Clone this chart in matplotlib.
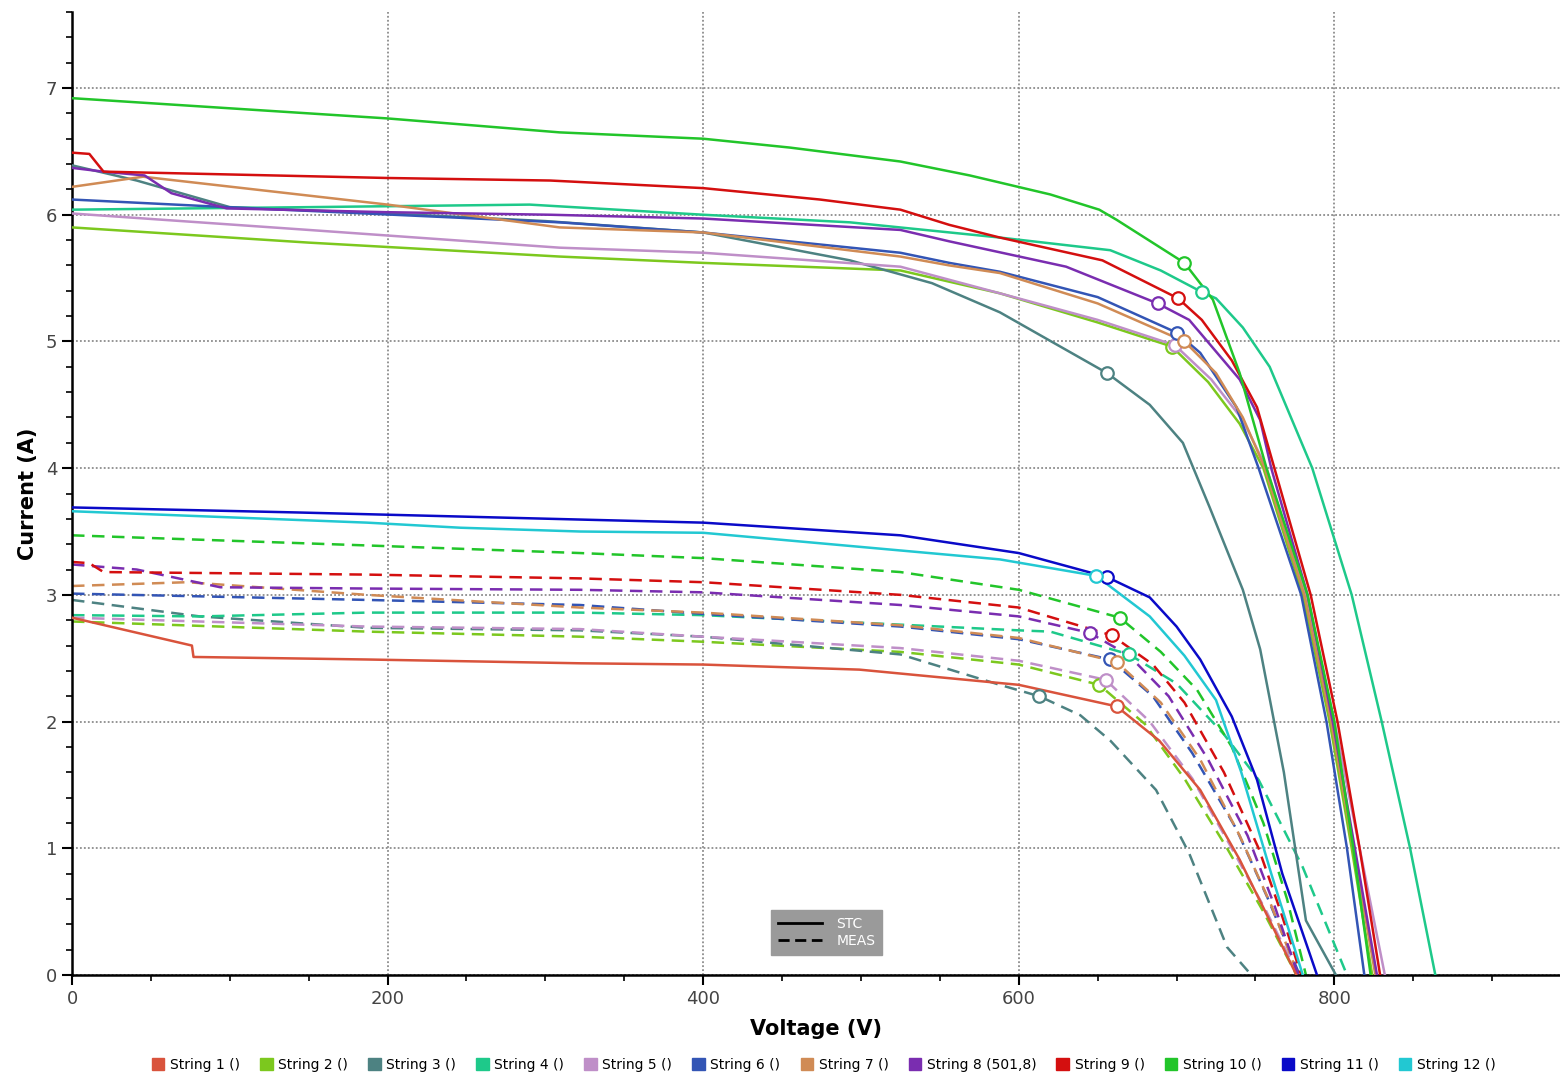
"""
I-V curves of 12 PV strings: STC (solid) vs measured (dashed), MPP marked with circles.
"""

import matplotlib.pyplot as plt
from matplotlib.lines import Line2D
from matplotlib.patches import Patch
from matplotlib.ticker import MultipleLocator

# ============================================================
# Data
# ============================================================
labels = ["String 1 ()", "String 2 ()", "String 3 ()", "String 4 ()",
          "String 5 ()", "String 6 ()", "String 7 ()", "String 8 (501,8)",
          "String 9 ()", "String 10 ()", "String 11 ()", "String 12 ()"]
colors = ["#d9533c", "#7cc81e", "#4d8282", "#1ec98a", "#bf8fc8", "#3355b5",
          "#d08b55", "#7a2db0", "#d40f0f", "#22c52a", "#0a0ac8", "#22c8d2"]

# --- STC curves (solid) ---
s1_stc_v = [0, 76, 77, 187, 322, 400, 499, 600, 662, 689, 715, 740, 759, 776]
s1_stc_i = [2.82, 2.60, 2.51, 2.49, 2.46, 2.45, 2.41, 2.29, 2.12, 1.85, 1.46, 0.91, 0.43, 0]
s2_stc_v = [0, 150, 309, 400, 525, 588, 650, 697, 720, 740, 755, 780, 797, 811, 824]
s2_stc_i = [5.90, 5.78, 5.67, 5.62, 5.56, 5.38, 5.15, 4.96, 4.68, 4.35, 4.0, 3.0, 2.0, 1.0, 0]
s3_stc_v = [0, 41, 100, 200, 300, 400, 493, 545, 588, 656, 683, 704, 721, 742, 753, 768, 782, 801]
s3_stc_i = [6.39, 6.27, 6.06, 6.01, 5.95, 5.86, 5.64, 5.46, 5.23, 4.75, 4.50, 4.20, 3.69, 3.04, 2.57, 1.60, 0.43, 0]
s4_stc_v = [0, 150, 290, 400, 493, 588, 658, 690, 716, 725, 742, 759, 786, 811, 830, 848, 864]
s4_stc_i = [6.04, 6.06, 6.08, 6.00, 5.94, 5.82, 5.72, 5.56, 5.39, 5.34, 5.11, 4.80, 4.0, 3.0, 2.0, 1.0, 0]
s5_stc_v = [0, 150, 309, 400, 525, 588, 650, 699, 722, 742, 757, 782, 800, 816, 832]
s5_stc_i = [6.01, 5.88, 5.74, 5.70, 5.59, 5.38, 5.17, 4.97, 4.70, 4.38, 4.0, 3.0, 2.0, 1.0, 0]
s6_stc_v = [0, 98, 309, 400, 525, 556, 588, 650, 700, 715, 738, 752, 779, 795, 808, 819]
s6_stc_i = [6.12, 6.06, 5.94, 5.86, 5.70, 5.62, 5.55, 5.35, 5.07, 4.91, 4.48, 4.0, 3.0, 2.0, 1.0, 0]
s7_stc_v = [0, 45, 200, 309, 400, 525, 556, 588, 650, 705, 725, 742, 756, 781, 798, 812, 826]
s7_stc_i = [6.22, 6.30, 6.08, 5.90, 5.86, 5.67, 5.60, 5.54, 5.30, 5.00, 4.75, 4.40, 4.0, 3.0, 2.0, 1.0, 0]
s8_stc_v = [0, 20, 46, 63, 98, 200, 303, 400, 525, 556, 630, 688, 708, 740, 753, 760, 783, 799, 813, 827]
s8_stc_i = [6.37, 6.34, 6.31, 6.17, 6.05, 6.02, 6.00, 5.97, 5.88, 5.79, 5.59, 5.30, 5.17, 4.70, 4.38, 4.0, 3.0, 2.0, 1.0, 0]
s9_stc_v = [0, 11, 20, 200, 303, 400, 474, 525, 556, 588, 653, 701, 716, 735, 751, 762, 785, 802, 816, 829]
s9_stc_i = [6.49, 6.48, 6.34, 6.29, 6.27, 6.21, 6.12, 6.04, 5.92, 5.82, 5.64, 5.34, 5.17, 4.85, 4.48, 4.0, 3.0, 2.0, 1.0, 0]
s10_stc_v = [0, 200, 309, 400, 455, 525, 569, 620, 651, 662, 705, 723, 740, 757, 783, 800, 812, 823]
s10_stc_i = [6.92, 6.76, 6.65, 6.60, 6.53, 6.42, 6.31, 6.16, 6.04, 5.96, 5.62, 5.33, 4.75, 4.0, 3.0, 2.0, 1.0, 0]
s11_stc_v = [0, 144, 400, 525, 600, 656, 683, 700, 715, 735, 751, 767, 789]
s11_stc_i = [3.69, 3.65, 3.57, 3.47, 3.33, 3.14, 2.98, 2.75, 2.49, 2.04, 1.54, 0.80, 0]
s12_stc_v = [0, 187, 246, 322, 400, 588, 649, 683, 705, 725, 741, 760, 780]
s12_stc_i = [3.66, 3.57, 3.53, 3.50, 3.49, 3.28, 3.15, 2.83, 2.52, 2.17, 1.60, 0.80, 0]

# --- Measured curves (dashed) ---
s2_meas_v = [0, 187, 322, 400, 525, 600, 651, 680, 705, 732, 755, 776]
s2_meas_i = [2.79, 2.71, 2.67, 2.63, 2.55, 2.45, 2.29, 1.98, 1.55, 1.0, 0.5, 0]
s3_meas_v = [0, 81, 187, 322, 400, 525, 588, 613, 639, 658, 687, 708, 732, 746, 750]
s3_meas_i = [2.96, 2.83, 2.74, 2.72, 2.67, 2.53, 2.29, 2.20, 2.05, 1.85, 1.46, 0.96, 0.22, 0.02, 0]
s4_meas_v = [0, 81, 187, 322, 400, 600, 620, 670, 700, 730, 752, 780, 808]
s4_meas_i = [2.84, 2.83, 2.86, 2.86, 2.84, 2.72, 2.71, 2.53, 2.30, 1.90, 1.54, 0.85, 0]
s5_meas_v = [0, 187, 322, 400, 525, 600, 655, 683, 710, 735, 757, 777]
s5_meas_i = [2.82, 2.75, 2.73, 2.67, 2.58, 2.48, 2.33, 2.0, 1.55, 1.0, 0.5, 0]
s6_meas_v = [0, 187, 322, 400, 525, 600, 658, 685, 710, 738, 758, 778]
s6_meas_i = [3.01, 2.96, 2.92, 2.85, 2.75, 2.65, 2.49, 2.20, 1.75, 1.15, 0.60, 0]
s7_meas_v = [0, 73, 187, 322, 400, 525, 600, 662, 690, 715, 740, 760, 777]
s7_meas_i = [3.07, 3.10, 3.00, 2.90, 2.86, 2.76, 2.66, 2.47, 2.15, 1.70, 1.10, 0.55, 0]
s8_meas_v = [0, 20, 41, 94, 187, 322, 400, 525, 600, 645, 670, 695, 720, 745, 762, 777]
s8_meas_i = [3.24, 3.22, 3.20, 3.06, 3.05, 3.04, 3.02, 2.92, 2.83, 2.70, 2.52, 2.20, 1.70, 1.10, 0.55, 0]
s9_meas_v = [0, 11, 20, 187, 322, 400, 525, 600, 659, 685, 705, 730, 752, 766, 779]
s9_meas_i = [3.26, 3.25, 3.18, 3.16, 3.13, 3.10, 3.00, 2.90, 2.68, 2.45, 2.15, 1.60, 1.0, 0.5, 0]
s10_meas_v = [0, 187, 322, 400, 525, 600, 664, 690, 713, 735, 755, 770, 782]
s10_meas_i = [3.47, 3.39, 3.33, 3.29, 3.18, 3.04, 2.82, 2.55, 2.25, 1.80, 1.20, 0.60, 0]

# --- Maximum power points (None = not shown) ---
stc_mpp_v = [662, 697, 656, 716, 699, 700, 705, 688, 701, 705, 656, 649]
stc_mpp_i = [2.12, 4.96, 4.75, 5.39, 4.97, 5.07, 5.00, 5.30, 5.34, 5.62, 3.14, 3.15]
meas_mpp_v = [None, 651, 613, 670, 655, 658, 662, 645, 659, 664, None, None]
meas_mpp_i = [None, 2.29, 2.20, 2.53, 2.33, 2.49, 2.47, 2.70, 2.68, 2.82, None, None]

stc_v = [s1_stc_v, s2_stc_v, s3_stc_v, s4_stc_v, s5_stc_v, s6_stc_v,
         s7_stc_v, s8_stc_v, s9_stc_v, s10_stc_v, s11_stc_v, s12_stc_v]
stc_i = [s1_stc_i, s2_stc_i, s3_stc_i, s4_stc_i, s5_stc_i, s6_stc_i,
         s7_stc_i, s8_stc_i, s9_stc_i, s10_stc_i, s11_stc_i, s12_stc_i]
meas_v = [None, s2_meas_v, s3_meas_v, s4_meas_v, s5_meas_v, s6_meas_v,
          s7_meas_v, s8_meas_v, s9_meas_v, s10_meas_v, None, None]
meas_i = [None, s2_meas_i, s3_meas_i, s4_meas_i, s5_meas_i, s6_meas_i,
          s7_meas_i, s8_meas_i, s9_meas_i, s10_meas_i, None, None]

# ============================================================
# Figure
# ============================================================
fig = plt.figure(figsize=(15.6, 10.8), dpi=100)
ax = fig.add_axes([72 / 1560, 105 / 1080, 1 - 72 / 1560, (975 - 12) / 1080])

LW = 1.8
DASH = (0, (5, 3))

# measured first, STC on top
for k in range(12):
    if meas_v[k] is not None:
        ax.plot(meas_v[k], meas_i[k], color=colors[k], lw=LW, ls=DASH, zorder=2)
for k in range(12):
    ax.plot(stc_v[k], stc_i[k], color=colors[k], lw=LW, zorder=3)

# MPP circles
for k in range(12):
    if meas_mpp_v[k] is not None:
        ax.plot(meas_mpp_v[k], meas_mpp_i[k], "o", ms=9, mfc="white",
                mec=colors[k], mew=1.6, zorder=4)
    ax.plot(stc_mpp_v[k], stc_mpp_i[k], "o", ms=9, mfc="white",
            mec=colors[k], mew=1.6, zorder=4)

# axes
ax.set_xlim(0, 943)
ax.set_ylim(0, 7.6)
ax.xaxis.set_major_locator(MultipleLocator(200))
ax.xaxis.set_minor_locator(MultipleLocator(50))
ax.yaxis.set_major_locator(MultipleLocator(1))
ax.yaxis.set_minor_locator(MultipleLocator(0.2))
ax.grid(True, which="major", color="#8c8c8c", lw=1.3, ls=(0, (1, 1.2)))
ax.set_axisbelow(True)
for side in ("top", "right"):
    ax.spines[side].set_visible(False)
for side in ("left", "bottom"):
    ax.spines[side].set_linewidth(1.8)
    ax.spines[side].set_color("black")
ax.tick_params(which="major", length=7, width=1.5, labelsize=13,
               labelcolor="#444444", direction="out")
ax.tick_params(which="minor", length=4, width=1.2, direction="out")
ax.set_xlabel("Voltage (V)", fontsize=15, fontweight="bold", labelpad=8)
ax.set_ylabel("Current (A)", fontsize=15, fontweight="bold", labelpad=6)

# STC / MEAS legend inside the plot
style_handles = [Line2D([], [], color="black", lw=2),
                 Line2D([], [], color="black", lw=2, ls=(0, (4, 2)))]
leg_in = ax.legend(style_handles, ["STC", "MEAS"], loc="lower left",
                   bbox_to_anchor=(0.465, 0.014), fontsize=10,
                   facecolor="#9a9a9a", edgecolor="#9a9a9a", framealpha=1,
                   fancybox=False, handlelength=3.2, handletextpad=1.0,
                   borderpad=0.5, labelspacing=0.2)
for txt in leg_in.get_texts():
    txt.set_color("white")

# string legend at the bottom
string_handles = [Patch(facecolor=c, edgecolor=c) for c in colors]
fig.legend(string_handles, labels, loc="lower center", ncol=12,
           bbox_to_anchor=(0.528, -0.004), frameon=False, fontsize=10,
           handlelength=0.9, handleheight=0.9, handletextpad=0.4,
           columnspacing=1.45)

fig.savefig("out.png", dpi=100)
